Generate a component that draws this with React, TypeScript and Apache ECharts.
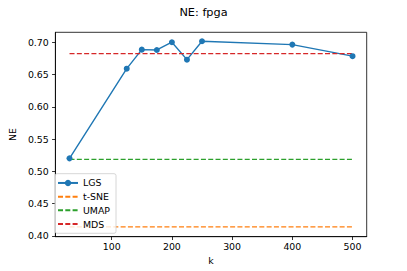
import React, { useEffect, useRef } from "react";
import * as echarts from "echarts";

const kValues = [30, 125, 150, 175, 200, 225, 250, 400, 500];
const lgsValues = [0.520, 0.659, 0.6885, 0.688, 0.700, 0.673, 0.7015, 0.6963, 0.6784];
const tsneValue = 0.4139;
const umapValue = 0.5184;
const mdsValue = 0.6824;
const xTicks = [100, 200, 300, 400, 500];
const yTicks = [0.40, 0.45, 0.50, 0.55, 0.60, 0.65, 0.70];

const FONT = "DejaVu Sans";

export default function App() {
  const ref = useRef<HTMLDivElement>(null);
  useEffect(() => {
    if (!ref.current) return;
    const chart = echarts.init(ref.current, undefined, { renderer: "svg" });
    const kMin = kValues[0];
    const kMax = kValues[kValues.length - 1];
    const flat = (v: number) => [[kMin, v], [kMax, v]];
    const dashed = (name: string, color: string, v: number) => ({
      name,
      type: "line",
      data: flat(v),
      symbol: "none",
      showSymbol: false,
      lineStyle: { color, width: 1.4, type: [5, 2.3] },
      itemStyle: { color },
    });
    chart.setOption({
      animation: false,
      title: {
        text: "NE: fpga",
        left: "center",
        top: 2,
        textStyle: { fontFamily: FONT, fontSize: 11.3, fontWeight: "normal", color: "#000" },
      },
      grid: {
        left: 50.3,
        right: 40.3,
        top: 32.3,
        bottom: 34.3,
        show: true,
        borderColor: "#000",
        borderWidth: 0.8,
        containLabel: false,
      },
      legend: {
        orient: "vertical",
        left: 55,
        top: 173.7,
        padding: [4, 6, 4, 2],
        itemWidth: 20,
        itemHeight: 8,
        itemGap: 3.2,
        borderColor: "#cccccc",
        borderWidth: 0.8,
        borderRadius: 2,
        backgroundColor: "rgba(255,255,255,0.8)",
        textStyle: { fontFamily: FONT, fontSize: 9.4, color: "#000", lineHeight: 10.5 },
        data: [
          { name: "LGS" },
          { name: "t-SNE", itemStyle: { opacity: 0 } },
          { name: "UMAP", itemStyle: { opacity: 0 } },
          { name: "MDS", itemStyle: { opacity: 0 } },
        ],
      },
      xAxis: {
        type: "value",
        min: 6.5,
        max: 523.5,
        name: "k",
        nameLocation: "middle",
        nameGap: 17,
        nameTextStyle: { fontFamily: FONT, fontSize: 9.4, color: "#000" },
        axisLine: { show: true, lineStyle: { color: "#000", width: 0.8 } },
        axisTick: { show: true, inside: false, length: 3.3, customValues: xTicks, lineStyle: { color: "#000", width: 0.8 } },
        axisLabel: { customValues: xTicks, margin: 5, fontFamily: FONT, fontSize: 9.4, color: "#000" },
        splitLine: { show: false },
      },
      yAxis: {
        type: "value",
        min: 0.3986,
        max: 0.7154,
        name: "NE",
        nameLocation: "middle",
        nameGap: 30,
        nameTextStyle: { fontFamily: FONT, fontSize: 9.4, color: "#000" },
        axisLine: { show: true, lineStyle: { color: "#000", width: 0.8 } },
        axisTick: { show: true, inside: false, length: 3.3, customValues: yTicks, lineStyle: { color: "#000", width: 0.8 } },
        axisLabel: {
          customValues: yTicks,
          margin: 6.6,
          fontFamily: FONT,
          fontSize: 9.4,
          color: "#000",
          formatter: (v: number) => v.toFixed(2),
        },
        splitLine: { show: false },
      },
      series: [
        {
          name: "LGS",
          type: "line",
          data: kValues.map((k, i) => [k, lgsValues[i]]),
          symbol: "circle",
          symbolSize: 6,
          showSymbol: true,
          lineStyle: { color: "#1f77b4", width: 1.4 },
          itemStyle: { color: "#1f77b4" },
        },
        dashed("t-SNE", "#ff7f0e", tsneValue),
        dashed("UMAP", "#2ca02c", umapValue),
        dashed("MDS", "#d62728", mdsValue),
      ],
    });
    return () => chart.dispose();
  }, []);
  return <div ref={ref} style={{ width: 407, height: 271, position: "absolute", left: 0, top: 0 }} />;
}
